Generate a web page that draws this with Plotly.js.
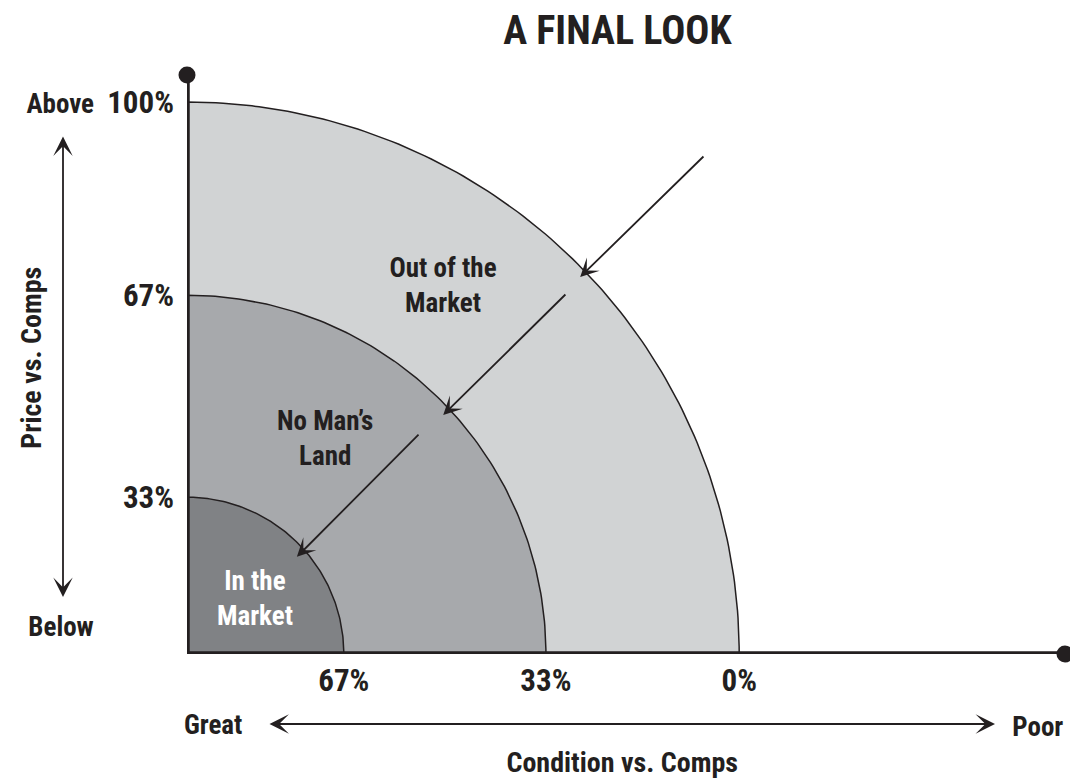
<!DOCTYPE html>
<html>
<head>
<meta charset="utf-8">
<script src="https://cdn.plot.ly/plotly-3.0.1.min.js"></script>
<style>
html,body{margin:0;padding:0;background:#fff;}
#chart{width:1070px;height:782px;}
#chart text{font-stretch:condensed !important;}
</style>
</head>
<body>
<div id="chart"></div>
<script>
// ---- data ----
const zoneNames = ["Out of the<br>Market", "No Man’s<br>Land", "In the<br>Market"];
const zoneRadii = [100, 65.0, 28.4];           // outer, middle, inner (share of outer radius)
const priceTickLabels = ["100%", "67%", "33%"];   // y axis, at the zone radii
const conditionTickLabels = ["0%", "33%", "67%"]; // x axis, at the zone radii
const zoneLabelX = [46.4, 25.0, 12.3];
const zoneLabelY = [66.8, 39.1, 10.1];
const arrowTailX = [93.8, 68.8, 42.2];
const arrowTailY = [90.4, 65.4, 40.0];
const arrowTipX = [71.2, 46.4, 19.9];
const arrowTipY = [68.3, 43.3, 17.6];
const xMax = 159, yMax = 104.9;

// ---- styles ----
const FONT = "Roboto, 'DejaVu Sans', sans-serif";
const INK = '#231f20';
const zoneFills = ['#d1d3d4', '#a7a9ac', '#808285'];
const zoneTextColors = [INK, INK, '#ffffff'];
const FS = 27;
const TICKFS = 31;

const traces = [];
zoneRadii.forEach((r, i) => {
  const xs = [0], ys = [0];
  const n = 120;
  for (let k = 0; k <= n; k++) {
    const a = (Math.PI / 2) * k / n;
    xs.push(r * Math.cos(a));
    ys.push(r * Math.sin(a));
  }
  xs.push(0); ys.push(0);
  traces.push({
    type: 'scatter', mode: 'lines', x: xs, y: ys, fill: 'toself',
    fillcolor: zoneFills[i], line: {color: INK, width: 1.5},
    hoverinfo: 'skip', showlegend: false, cliponaxis: false
  });
});
// axes lines
traces.push({type: 'scatter', mode: 'lines', x: [0, 0, xMax], y: [yMax, 0, 0],
  line: {color: INK, width: 5.5}, hoverinfo: 'skip', showlegend: false, cliponaxis: false});
traces.push({type: 'scatter', mode: 'markers', x: [0, xMax], y: [yMax, 0],
  marker: {color: INK, size: 17}, hoverinfo: 'skip', showlegend: false, cliponaxis: false});

const annotations = [];
zoneNames.forEach((t, i) => {
  annotations.push({x: zoneLabelX[i], y: zoneLabelY[i], xref: 'x', yref: 'y', text: '<b>' + t + '</b>',
    xanchor: 'center', yanchor: 'middle',
    showarrow: false, font: {family: FONT, size: FS, color: zoneTextColors[i]}, align: 'center'});
});
arrowTipX.forEach((tx, i) => {
  annotations.push({x: tx, y: arrowTipY[i], ax: arrowTailX[i], ay: arrowTailY[i],
    xref: 'x', yref: 'y', axref: 'x', ayref: 'y', text: '', showarrow: true,
    arrowhead: 3, arrowsize: 1.7, arrowwidth: 1.8, arrowcolor: INK, standoff: 0});
});
// double arrows (paper coords)
annotations.push({x: (63 - 187) / 878, y: (654 - 597) / 579, xref: 'paper', yref: 'paper',
  ax: 0, ay: -462, text: '', showarrow: true, arrowside: 'end+start',
  arrowhead: 3, arrowsize: 1.8, arrowwidth: 1.8, arrowcolor: INK, standoff: 0, startstandoff: 0, startarrowhead: 3, startarrowsize: 1.8});
annotations.push({x: (995 - 187) / 878, y: (654 - 724) / 579, xref: 'paper', yref: 'paper',
  ax: -727, ay: 0, text: '', showarrow: true, arrowside: 'end+start',
  arrowhead: 3, arrowsize: 1.8, arrowwidth: 1.8, arrowcolor: INK, standoff: 0, startstandoff: 0, startarrowhead: 3, startarrowsize: 1.8});
const labelFont = {family: FONT, size: FS, color: INK};
const txt = (s, px, py, extra) => Object.assign({x: (px - 187) / 878, y: (654 - py) / 579,
  xref: 'paper', yref: 'paper', xanchor: 'center', yanchor: 'middle',
  text: '<b>' + s + '</b>', showarrow: false, font: labelFont}, extra || {});
annotations.push(txt('Above', 60, 104));
annotations.push(txt('Below', 61, 627));
annotations.push(txt('Great', 213, 725));
annotations.push(txt('Poor', 1038, 727));
annotations.push(txt('Condition vs. Comps', 622, 762, {font: {family: FONT, size: 28, color: INK}}));
annotations.push(txt('Price vs. Comps', 31, 358, {textangle: -90, font: {family: FONT, size: 28, color: INK}}));

const layout = {
  width: 1070, height: 782,
  margin: {l: 187, r: 5, t: 75, b: 128},
  paper_bgcolor: '#ffffff', plot_bgcolor: 'rgba(0,0,0,0)',
  title: {text: '<b>A FINAL LOOK</b>', x: 0.577, xanchor: 'center', y: 0.961, yanchor: 'middle',
    font: {family: FONT, size: 40, color: INK}},
  xaxis: {range: [0, xMax], showgrid: false, zeroline: false, showline: false, ticks: '',
    tickvals: zoneRadii, ticktext: conditionTickLabels.map(s => '<b>' + s + '</b>'),
    tickfont: {family: FONT, size: TICKFS, color: INK}, ticklabelstandoff: 5, fixedrange: true},
  yaxis: {range: [0, yMax], showgrid: false, zeroline: false, showline: false, ticks: '',
    tickvals: zoneRadii, ticktext: priceTickLabels.map(s => '<b>' + s + '</b>'),
    tickfont: {family: FONT, size: TICKFS, color: INK}, ticklabelstandoff: 12, fixedrange: true},
  annotations: annotations,
  showlegend: false
};
Plotly.newPlot('chart', traces, layout, {displayModeBar: false, staticPlot: true});
</script>
</body>
</html>
